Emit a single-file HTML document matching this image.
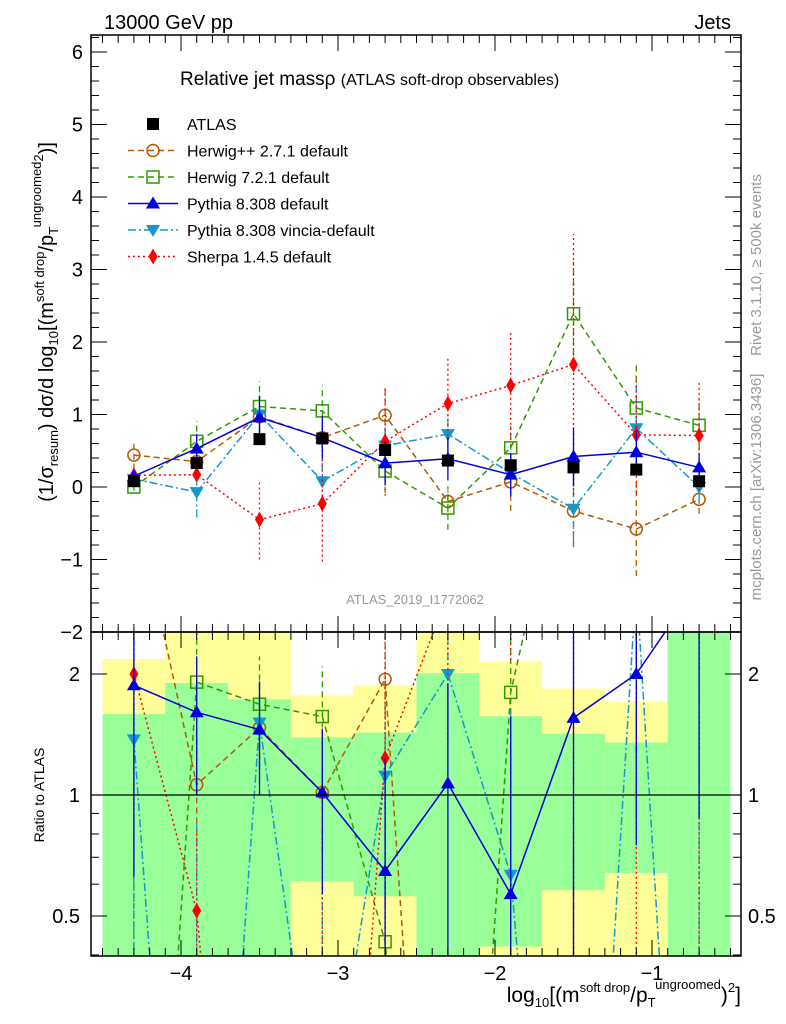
<!DOCTYPE html>
<html><head><meta charset="utf-8"><style>
html,body{margin:0;padding:0;background:#fff;overflow:hidden;width:786px;height:1024px;}
svg{display:block;font-family:"Liberation Sans",sans-serif;}
</style></head><body>
<svg id="c" width="786" height="1024" viewBox="0 0 786 1024" xmlns="http://www.w3.org/2000/svg">
<defs>
<clipPath id="cm"><rect x="91" y="35" width="650" height="597"/></clipPath>
<clipPath id="cr"><rect x="91" y="632" width="650" height="324"/></clipPath>
</defs>
<g id="bands" clip-path="url(#cr)"></g>
<g id="main" clip-path="url(#cm)"></g>
<g id="ratio" clip-path="url(#cr)"></g>
<g id="axes"></g>
<text x="104" y="29" font-size="20">13000 GeV pp</text>
<text x="731" y="29" font-size="20" text-anchor="end">Jets</text>
<text x="180" y="85" font-size="19">Relative jet massρ <tspan font-size="16">(ATLAS soft-drop observables)</tspan></text>
<text x="415" y="604" font-size="13" fill="#999" text-anchor="middle">ATLAS_2019_I1772062</text>
<text transform="translate(761,265) rotate(-90)" font-size="15" fill="#999" text-anchor="middle">Rivet 3.1.10, ≥ 500k events</text>
<text transform="translate(761,487) rotate(-90)" font-size="15" fill="#999" text-anchor="middle">mcplots.cern.ch [arXiv:1306.3436]</text>
<text transform="translate(53,322) rotate(-90)" font-size="20" text-anchor="middle">(1/σ<tspan font-size="13" dy="5">resum</tspan><tspan dy="-5">) dσ/d log</tspan><tspan font-size="13" dy="5">10</tspan><tspan dy="-5">[(m</tspan><tspan font-size="13" dy="-9">soft drop</tspan><tspan dy="9">/p</tspan><tspan font-size="13" dy="5">T</tspan><tspan font-size="13" dy="-17">ungroomed</tspan><tspan font-size="13" dy="2">2</tspan><tspan dy="10">)]</tspan></text>
<text transform="translate(44,795) rotate(-90)" font-size="14" text-anchor="middle">Ratio to ATLAS</text>
<text x="741" y="1002" font-size="21" text-anchor="end">log<tspan font-size="13" dy="5">10</tspan><tspan dy="-5">[(m</tspan><tspan font-size="13" dy="-10">soft drop</tspan><tspan dy="10">/p</tspan><tspan font-size="13" dy="5">T</tspan><tspan font-size="13" dy="-18">ungroomed</tspan><tspan dy="13">)</tspan><tspan font-size="13" dy="-10">2</tspan><tspan dy="10">]</tspan></text>
<g id="legend"></g>
</svg>
<script>
const xs=[-4.3,-3.9,-3.5,-3.1,-2.7,-2.3,-1.9,-1.5,-1.1,-0.7];
const atlas=[0.08,0.33,0.66,0.67,0.51,0.365,0.30,0.27,0.24,0.08];
const atlasErr=[0.05,0.05,0.06,0.06,0.05,0.05,0.05,0.05,0.05,0.05];
const herwigpp=[0.44,0.35,0.97,0.68,0.99,-0.2,0.07,-0.33,-0.58,-0.17];
const herwigppErr=[0.2,0.1,0.2,0.2,0.4,0.15,0.4,0.5,0.65,0.2];
const herwig7=[0.0,0.63,1.11,1.05,0.22,-0.29,0.54,2.39,1.09,0.85];
const herwig7Err=[0.05,0.28,0.35,0.35,0.3,0.3,0.3,0.72,0.6,0.35];
const pythia=[0.15,0.53,0.96,0.68,0.33,0.39,0.17,0.42,0.48,0.27];
const pythiaErr=[0.1,0.2,0.3,0.3,0.3,0.3,0.3,0.4,0.3,0.2];
const vincia=[0.11,-0.07,1.0,0.08,0.57,0.73,0.19,-0.3,0.81,0.0];
const vinciaErr=[0.1,0.35,0.3,0.3,0.3,0.35,0.3,0.5,0.6,0.2];
const sherpa=[0.16,0.17,-0.45,-0.23,0.63,1.15,1.4,1.69,0.72,0.71];
const sherpaErr=[0.1,0.1,0.55,0.8,0.75,0.65,0.75,1.8,0.8,0.75];
const bandYellowHi=[2.18,2.6,2.6,1.77,1.87,2.6,2.15,1.84,1.71,3.0];
const bandYellowLo=[0.41,0.3,0.3,0.3,0.3,0.3,0.3,0.3,0.3,0.3];
const bandGreenHi=[1.59,1.90,1.73,1.39,1.43,2.01,1.57,1.42,1.35,3.0];
const bandGreenLo=[0.3,0.3,0.3,0.61,0.56,0.3,0.42,0.58,0.64,0.3];
const mainTicks=[-2,-1,0,1,2,3,4,5,6];
const xTicks=[-4,-3,-2,-1];
const ratioTicks=[0.5,1,2];

const NS="http://www.w3.org/2000/svg";
const X=v=>181+(v+4)*157;
const Y=v=>487-v*72.5;
const R=r=>795-121*Math.log2(Math.max(r,0.01));
const L0=91,R0=741,T0=35,M0=632,B0=956;
function el(p,t,a){const e=document.createElementNS(NS,t);for(const k in a)e.setAttribute(k,a[k]);p.appendChild(e);return e;}
const main=document.getElementById('main'),ratio=document.getElementById('ratio'),bands=document.getElementById('bands'),axes=document.getElementById('axes'),legend=document.getElementById('legend');

for(let i=0;i<xs.length;i++){
  const x0=X(xs[i]-0.2),x1=X(xs[i]+0.2);
  const y=el(bands,'rect',{x:x0,y:R(bandYellowHi[i]),width:x1-x0,height:R(bandYellowLo[i])-R(bandYellowHi[i]),fill:'#ffff99'});
  
  
  const g=el(bands,'rect',{x:x0,y:R(bandGreenHi[i]),width:x1-x0,height:R(bandGreenLo[i])-R(bandGreenHi[i]),fill:'#99ff99'});
  
  
}

function marker(p,type,x,y,col){
  let m;
  if(type==='sq')m=el(p,'rect',{x:x-6,y:y-6,width:12,height:12,fill:'black'});
  else if(type==='circ')m=el(p,'circle',{cx:x,cy:y,r:6,fill:'none',stroke:col,'stroke-width':1.5});
  else if(type==='osq')m=el(p,'rect',{x:x-6,y:y-6,width:12,height:12,fill:'none',stroke:col,'stroke-width':1.5});
  else if(type==='up')m=el(p,'polygon',{points:`${x},${y-7} ${x-7},${y+5} ${x+7},${y+5}`,fill:col});
  else if(type==='down')m=el(p,'polygon',{points:`${x},${y+7} ${x-7},${y-5} ${x+7},${y-5}`,fill:col});
  else m=el(p,'polygon',{points:`${x},${y-8} ${x-4.5},${y} ${x},${y+8} ${x+4.5},${y}`,fill:col});
  return m;
}
const series=[
 {n:'herwigpp',v:herwigpp,e:herwigppErr,c:'#b35900',d:'6,4',m:'circ',l:'Herwig++ 2.7.1 default'},
 {n:'herwig7',v:herwig7,e:herwig7Err,c:'#339900',d:'6,4',m:'osq',l:'Herwig 7.2.1 default'},
 {n:'vincia',v:vincia,e:vinciaErr,c:'#1199cc',d:'8,3,2,3',m:'down',l:'Pythia 8.308 vincia-default'},
 {n:'sherpa',v:sherpa,e:sherpaErr,c:'#ff0000',d:'2,3',m:'dia',l:'Sherpa 1.4.5 default'},
 {n:'pythia',v:pythia,e:pythiaErr,c:'#0000dd',d:'',m:'up',l:'Pythia 8.308 default'}
];
for(const s of series){
  const pts=xs.map((x,i)=>X(x)+','+Y(s.v[i])).join(' ');
  const ln=el(main,'polyline',{points:pts,fill:'none',stroke:s.c,'stroke-width':1.5,'stroke-dasharray':s.d});
  
  
  const rv=s.v.map((v,i)=>v/atlas[i]);
  const rpts=xs.map((x,i)=>X(x)+','+R(rv[i])).join(' ');
  const rl=el(ratio,'polyline',{points:rpts,fill:'none',stroke:s.c,'stroke-width':1.5,'stroke-dasharray':s.d});
  
  
  xs.forEach((x,i)=>{
    const eb=el(main,'line',{x1:X(x),x2:X(x),y1:Y(s.v[i]-s.e[i]),y2:Y(s.v[i]+s.e[i]),stroke:s.c,'stroke-width':1.3,'stroke-dasharray':s.d});
    
    
    const mk=marker(main,s.m,X(x),Y(s.v[i]),s.c);
    
    
    const re=s.e[i]/atlas[i];
    const rb=el(ratio,'line',{x1:X(x),x2:X(x),y1:R(rv[i]-re),y2:R(rv[i]+re),stroke:s.c,'stroke-width':1.3,'stroke-dasharray':s.d});
    
    
    const rm=marker(ratio,s.m,X(x),R(rv[i]),s.c);
    
    
  });
}
xs.forEach((x,i)=>{
  const eb=el(main,'line',{x1:X(x),x2:X(x),y1:Y(atlas[i]-atlasErr[i]),y2:Y(atlas[i]+atlasErr[i]),stroke:'black','stroke-width':1.5});
  
  
  const mk=marker(main,'sq',X(x),Y(atlas[i]),'black');
  
  
});
const one=el(ratio,'line',{x1:L0,x2:R0,y1:R(1),y2:R(1),stroke:'black','stroke-width':1.2});



const leg=[{c:'black',d:'',m:'sq',l:'ATLAS'}].concat([series[0],series[1],series[4],series[2],series[3]]);
leg.forEach((s,i)=>{
  const y=124+i*26.5;
  if(s.m!=='sq'){el(legend,'line',{x1:128,x2:178,y1:y,y2:y,stroke:s.c,'stroke-width':1.5,'stroke-dasharray':s.d});}
  marker(legend,s.m,153,y,s.c);
  const t=el(legend,'text',{x:187,y:y+6,'font-size':16});t.textContent=s.l;
  
  
});

el(axes,'rect',{x:L0,y:T0,width:R0-L0,height:M0-T0,fill:'none',stroke:'black','stroke-width':1.5});
el(axes,'rect',{x:L0,y:M0,width:R0-L0,height:B0-M0,fill:'none',stroke:'black','stroke-width':1.5});
for(let k=-10;k<=32;k++){const v=k*0.2;const y=Y(v);if(y<T0||y>M0)continue;
  const L=(k%5===0)?16:8;
  el(axes,'line',{x1:L0,x2:L0+L,y1:y,y2:y,stroke:'black'});el(axes,'line',{x1:R0-L,x2:R0,y1:y,y2:y,stroke:'black'});}
mainTicks.forEach(v=>{const t=el(axes,'text',{x:83,y:Y(v)+7,'font-size':20,'text-anchor':'end'});t.textContent=v<0?'−'+(-v):v;
  
  });
for(let k=-46;k<=-3;k++){const v=k*0.1;const x=X(v);if(x<L0||x>R0)continue;
  const L=(k%10===0)?16:8;
  [T0,M0].forEach(y0=>el(axes,'line',{x1:x,x2:x,y1:y0,y2:y0+L,stroke:'black'}));
  [M0,B0].forEach(y0=>el(axes,'line',{x1:x,x2:x,y1:y0-L,y2:y0,stroke:'black'}));}
xTicks.forEach(v=>{const t=el(axes,'text',{x:X(v),y:980,'font-size':20,'text-anchor':'middle'});t.textContent='−'+(-v);
  
  });
[0.4,0.5,0.6,0.7,0.8,0.9,1,2].forEach(r=>{const y=R(r);const L=(r===0.5||r===1||r===2)?16:8;
  el(axes,'line',{x1:L0,x2:L0+L,y1:y,y2:y,stroke:'black'});el(axes,'line',{x1:R0-L,x2:R0,y1:y,y2:y,stroke:'black'});});
ratioTicks.forEach(r=>{
  const t=el(axes,'text',{x:80,y:R(r)+7,'font-size':20,'text-anchor':'end'});t.textContent=r;
  
  
  const t2=el(axes,'text',{x:748,y:R(r)+7,'font-size':20});t2.textContent=r;
  
  });
</script>
</body></html>
